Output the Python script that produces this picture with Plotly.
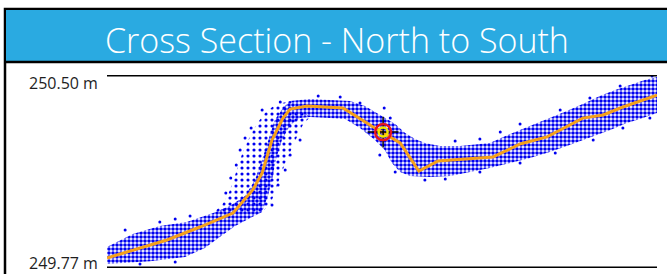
import plotly.graph_objects as go

W, H = 667, 274

# ---- data (distance in m, elevation in m) ----
title_text = "Cross Section - North to South"
y_tick_vals = [250.50, 249.77]
y_tick_labels = ["250.50 m", "249.77 m"]

# fitted profile (orange)
profile_x = [0, 6.0, 10.9, 16.9, 22.9, 26.5, 28.2, 30.0, 32.0, 33.3, 36.4, 42.9,
             48.4, 53.3, 56.7, 60.2, 70.2, 75.1, 80.0, 82.4, 86.5, 90.2, 93.8, 100]
profile_y = [249.808, 249.846, 249.876, 249.925, 249.978, 250.065, 250.129, 250.254,
             250.337, 250.371, 250.383, 250.375, 250.303, 250.243, 250.137, 250.175,
             250.190, 250.239, 250.266, 250.292, 250.337, 250.349, 250.379, 250.424]

# outline of dense survey point cloud
cloud_x = [0, 4.7, 9.6, 14.5, 19.3, 22.4, 25.1, 26.9, 28.2, 29.3, 30.5, 32.0, 33.3,
           36.9, 40.5, 44.2, 46.9, 48.7, 50.5, 52.4, 54.2, 56.0, 57.8, 60.5, 64.2,
           69.6, 73.3, 76.9, 80.5, 83.6, 86.9, 89.6, 92.4, 95.1, 97.8, 100,
           100, 96.9, 94.5, 91.5, 89.1, 86.0, 83.6, 80.5, 76.9, 73.3, 69.6, 66.0,
           62.4, 58.7, 55.1, 53.3, 51.8, 50.5, 48.7, 46.0, 43.3, 40.5, 36.9, 35.1,
           33.3, 31.8, 30.7, 30.0, 29.3, 28.2, 26.0, 23.3, 20.5, 17.8, 14.2, 7.8, 0]
cloud_y = [249.849, 249.899, 249.929, 249.944, 249.978, 250.005, 250.042, 250.103,
           250.179, 250.254, 250.330, 250.375, 250.402, 250.409, 250.405, 250.402,
           250.383, 250.360, 250.337, 250.315, 250.281, 250.258, 250.243, 250.231,
           250.231, 250.243, 250.277, 250.307, 250.337, 250.364, 250.394, 250.421,
           250.443, 250.462, 250.481, 250.492,
           250.356, 250.334, 250.318, 250.292, 250.273, 250.250, 250.231, 250.209,
           250.186, 250.167, 250.148, 250.133, 250.118, 250.114, 250.118, 250.133,
           250.167, 250.216, 250.254, 250.300, 250.334, 250.337, 250.341, 250.337,
           250.311, 250.254, 250.179, 250.103, 250.046, 249.982, 249.959, 249.929,
           249.887, 249.846, 249.812, 249.796, 249.785]

# outline of sparse point region on the steep slope
sparse_x = [19.3, 20.9, 22.0, 22.7, 23.6, 24.5, 25.5, 26.4, 27.5, 28.7, 30.5, 33.3,
            36.9, 35.6, 34.7, 33.6, 32.5, 31.6, 30.7, 29.8, 28.2]
sparse_y = [249.978, 250.008, 250.046, 250.084, 250.141, 250.197, 250.247, 250.284,
            250.322, 250.356, 250.387, 250.402, 250.341, 250.311, 250.273, 250.224,
            250.171, 250.122, 250.065, 250.016, 249.982]

# isolated survey points
pts_x = [3.3, 9.6, 12.4, 15.1, 6.0, 12.4, 21.6, 22.5, 23.5, 24.2, 25.1, 26.2, 28.2,
         31.5, 38.4, 42.4, 46.0, 50.4, 51.5, 49.6, 52.4, 57.8, 61.5, 63.3, 67.8,
         71.5, 75.1, 82.4, 87.8, 93.3, 99.1, 98.7, 93.8, 88.4, 81.5, 75.1, 67.8,
         35.1, 33.3, 32.4, 31.1, 30.0]
pts_y = [249.914, 249.944, 249.955, 249.967, 249.785, 249.793, 250.054, 250.110,
         250.160, 250.216, 250.262, 250.300, 250.368, 250.398, 250.421, 250.417,
         250.394, 250.375, 250.337, 250.197, 250.133, 250.103, 250.107, 250.250,
         250.258, 250.284, 250.315, 250.368, 250.413, 250.458, 250.496, 250.337,
         250.300, 250.254, 250.205, 250.167, 250.133, 250.254, 250.197, 250.141,
         250.084, 250.008]

# selected point
sel_x = [50.2]
sel_y = [250.284]

BLUE = "#0000f0"
ORANGE = "#F5A01A"

fig = go.Figure()

fig.add_trace(go.Scatter(
    x=sparse_x, y=sparse_y, mode="lines", fill="toself",
    line=dict(width=0), fillcolor="rgba(0,0,0,0)",
    fillpattern=dict(shape=".", fgcolor=BLUE, fgopacity=1, bgcolor="rgba(255,255,255,0)",
                     size=6, solidity=0.22),
    hoverinfo="skip", showlegend=False))

fig.add_trace(go.Scatter(
    x=cloud_x, y=cloud_y, mode="lines", fill="toself",
    line=dict(width=0), fillcolor="rgba(0,0,0,0)",
    fillpattern=dict(shape=".", fgcolor=BLUE, fgopacity=1, bgcolor="rgba(255,255,255,0)",
                     size=4, solidity=0.62),
    hoverinfo="skip", showlegend=False))

fig.add_trace(go.Scatter(
    x=pts_x, y=pts_y, mode="markers",
    marker=dict(color=BLUE, size=3, line=dict(width=0)),
    showlegend=False))

fig.add_trace(go.Scatter(
    x=profile_x, y=profile_y, mode="lines",
    line=dict(color=ORANGE, width=3), showlegend=False))

fig.add_trace(go.Scatter(
    x=sel_x, y=sel_y, mode="markers",
    marker=dict(symbol="cross-thin-open", size=22, color="black",
                line=dict(color="black", width=1.5)),
    showlegend=False))
fig.add_trace(go.Scatter(
    x=sel_x, y=sel_y, mode="markers",
    marker=dict(symbol="circle-open", size=16, color="#e8141e",
                line=dict(color="#e8141e", width=2.5)),
    showlegend=False))
fig.add_trace(go.Scatter(
    x=sel_x, y=sel_y, mode="markers",
    marker=dict(symbol="circle-open", size=9, color="#f2e600",
                line=dict(color="#f2e600", width=2.5)),
    showlegend=False))

x0p, x1p = 107 / W, 657 / W
ytop_p, ybot_p = 1 - 75 / H, 1 - 268 / H

def py(p):
    return 1 - p / H

shapes = [
    # outer frame
    dict(type="rect", xref="paper", yref="paper", x0=5 / W, x1=1.2, y0=-0.2, y1=py(9),
         line=dict(color="black", width=2.5), fillcolor="white", layer="below"),
    # title bar
    dict(type="rect", xref="paper", yref="paper", x0=6 / W, x1=1.2, y0=py(62), y1=py(10),
         line=dict(width=0), fillcolor="#2AAAE1", layer="below"),
    dict(type="line", xref="paper", yref="paper", x0=5 / W, x1=1.2, y0=py(62), y1=py(62),
         line=dict(color="black", width=2.5)),
    # top/bottom range lines
    dict(type="line", xref="paper", yref="y", x0=x0p, x1=x1p, y0=y_tick_vals[0], y1=y_tick_vals[0],
         line=dict(color="black", width=3)),
    dict(type="line", xref="paper", yref="y", x0=x0p, x1=x1p, y0=y_tick_vals[1], y1=y_tick_vals[1],
         line=dict(color="black", width=3)),
]

annotations = [
    dict(text=title_text, xref="paper", yref="paper", x=337 / W, y=py(40),
         xanchor="center", yanchor="middle", showarrow=False,
         font=dict(family="Open Sans", size=34, color="white", weight=300)),
    dict(text=y_tick_labels[0], xref="paper", yref="paper", x=100 / W, y=py(82.5),
         xanchor="right", yanchor="middle", showarrow=False,
         font=dict(family="Open Sans", size=16, color="#1e1e1e")),
    dict(text=y_tick_labels[1], xref="paper", yref="paper", x=100 / W, y=py(262.5),
         xanchor="right", yanchor="middle", showarrow=False,
         font=dict(family="Open Sans", size=16, color="#1e1e1e")),
]

fig.update_layout(
    width=W, height=H, margin=dict(l=0, r=0, t=0, b=0),
    paper_bgcolor="white", plot_bgcolor="rgba(0,0,0,0)",
    xaxis=dict(domain=[x0p, x1p], range=[0, 100], visible=False, fixedrange=True),
    yaxis=dict(domain=[ybot_p, ytop_p], range=[y_tick_vals[1], y_tick_vals[0]],
               visible=False, fixedrange=True),
    shapes=shapes, annotations=annotations, showlegend=False,
)

fig.write_html(
    "out.html",
    config={"displayModeBar": False},
    post_script="document.body.style.margin='0';document.body.style.overflow='hidden';",
)
